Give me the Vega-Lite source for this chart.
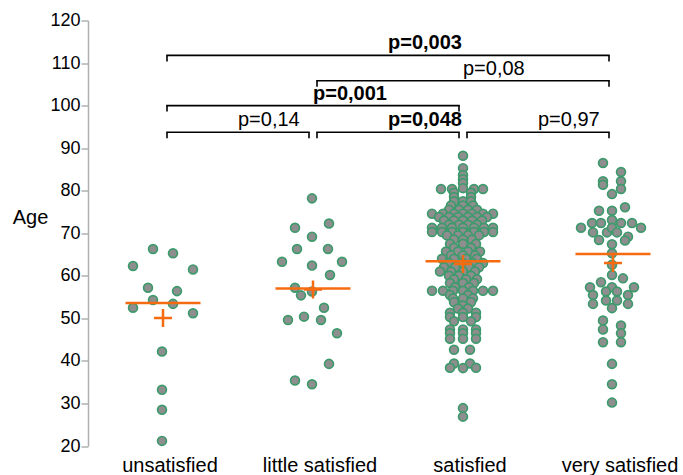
{
  "$schema": "https://vega.github.io/schema/vega-lite/v6.json",
  "width": 595,
  "height": 425.5,
  "autosize": "none",
  "padding": {"left": 88, "top": 20.5, "right": 0, "bottom": 29},
  "config": {"view": {"stroke": null}, "font": "Liberation Sans"},
  "datasets": {
    "pts": [
      {"cat":"unsatisfied","age":66.3,"jit":-10},{"cat":"unsatisfied","age":65.3,"jit":10},{"cat":"unsatisfied","age":62.3,"jit":-30},{"cat":"unsatisfied","age":61.5,"jit":30},{"cat":"unsatisfied","age":57.2,"jit":-15},{"cat":"unsatisfied","age":56.4,"jit":14},{"cat":"unsatisfied","age":54.3,"jit":-10},{"cat":"unsatisfied","age":53.4,"jit":10},{"cat":"unsatisfied","age":52.5,"jit":-30},{"cat":"unsatisfied","age":51.2,"jit":30},{"cat":"unsatisfied","age":42.2,"jit":-1},{"cat":"unsatisfied","age":33.2,"jit":-1},{"cat":"unsatisfied","age":28.5,"jit":-1},{"cat":"unsatisfied","age":21.2,"jit":-1},
      {"cat":"little satisfied","age":78.2,"jit":-1},{"cat":"little satisfied","age":71.3,"jit":-18},{"cat":"little satisfied","age":72.3,"jit":16},{"cat":"little satisfied","age":69.2,"jit":-1},{"cat":"little satisfied","age":66.3,"jit":-16},{"cat":"little satisfied","age":66.3,"jit":15},{"cat":"little satisfied","age":63.3,"jit":-31},{"cat":"little satisfied","age":62.4,"jit":-1},{"cat":"little satisfied","age":63.3,"jit":29},{"cat":"little satisfied","age":60.2,"jit":17},{"cat":"little satisfied","age":57.2,"jit":-18},{"cat":"little satisfied","age":55.4,"jit":-12},{"cat":"little satisfied","age":56.3,"jit":-1},{"cat":"little satisfied","age":52.5,"jit":11},{"cat":"little satisfied","age":49.6,"jit":-25},{"cat":"little satisfied","age":50.4,"jit":-9},{"cat":"little satisfied","age":49.6,"jit":8},{"cat":"little satisfied","age":46.5,"jit":24},{"cat":"little satisfied","age":39.3,"jit":16},{"cat":"little satisfied","age":35.4,"jit":-18},{"cat":"little satisfied","age":34.5,"jit":-1},
      {"cat":"satisfied","age":88.2,"jit":0},{"cat":"satisfied","age":85.3,"jit":0},{"cat":"satisfied","age":83.7,"jit":0},{"cat":"satisfied","age":82.7,"jit":0},{"cat":"satisfied","age":81.8,"jit":0},{"cat":"satisfied","age":80.6,"jit":0},
      {"cat":"satisfied","age":80.4,"jit":-22},{"cat":"satisfied","age":80.4,"jit":-11},{"cat":"satisfied","age":80.4,"jit":11},{"cat":"satisfied","age":80.4,"jit":20},
      {"cat":"satisfied","age":79.5,"jit":-9},{"cat":"satisfied","age":79.5,"jit":8},
      {"cat":"satisfied","age":78.5,"jit":-9},{"cat":"satisfied","age":78.5,"jit":8},
      {"cat":"satisfied","age":77.5,"jit":-9},{"cat":"satisfied","age":77.5,"jit":0},{"cat":"satisfied","age":77.5,"jit":8},
      {"cat":"satisfied","age":76.5,"jit":-12},{"cat":"satisfied","age":76.5,"jit":0},{"cat":"satisfied","age":76.5,"jit":10},
      {"cat":"satisfied","age":75.5,"jit":-14},{"cat":"satisfied","age":75.5,"jit":-4},{"cat":"satisfied","age":75.5,"jit":5},{"cat":"satisfied","age":75.5,"jit":14},
      {"cat":"satisfied","age":74.6,"jit":-31},{"cat":"satisfied","age":74.6,"jit":-20},{"cat":"satisfied","age":74.6,"jit":-9},{"cat":"satisfied","age":74.6,"jit":0},{"cat":"satisfied","age":74.6,"jit":9},{"cat":"satisfied","age":74.6,"jit":20},{"cat":"satisfied","age":74.6,"jit":30},
      {"cat":"satisfied","age":73.8,"jit":-24},{"cat":"satisfied","age":73.8,"jit":-14},{"cat":"satisfied","age":73.8,"jit":-5},{"cat":"satisfied","age":73.8,"jit":5},{"cat":"satisfied","age":73.8,"jit":14},{"cat":"satisfied","age":73.8,"jit":24},
      {"cat":"satisfied","age":73.0,"jit":-19},{"cat":"satisfied","age":73.0,"jit":-9},{"cat":"satisfied","age":73.0,"jit":0},{"cat":"satisfied","age":73.0,"jit":9},{"cat":"satisfied","age":73.0,"jit":19},
      {"cat":"satisfied","age":72.0,"jit":-14},{"cat":"satisfied","age":72.0,"jit":-4},{"cat":"satisfied","age":72.0,"jit":5},{"cat":"satisfied","age":72.0,"jit":14},
      {"cat":"satisfied","age":71.3,"jit":-31},{"cat":"satisfied","age":71.3,"jit":-21},{"cat":"satisfied","age":71.3,"jit":-11},{"cat":"satisfied","age":71.3,"jit":0},{"cat":"satisfied","age":71.3,"jit":11},{"cat":"satisfied","age":71.3,"jit":21},{"cat":"satisfied","age":71.3,"jit":30},
      {"cat":"satisfied","age":70.3,"jit":-31},{"cat":"satisfied","age":70.3,"jit":-21},{"cat":"satisfied","age":70.3,"jit":-11},{"cat":"satisfied","age":70.3,"jit":0},{"cat":"satisfied","age":70.3,"jit":11},{"cat":"satisfied","age":70.3,"jit":21},{"cat":"satisfied","age":70.3,"jit":30},
      {"cat":"satisfied","age":69.5,"jit":-16},{"cat":"satisfied","age":69.5,"jit":-5},{"cat":"satisfied","age":69.5,"jit":5},{"cat":"satisfied","age":69.5,"jit":16},
      {"cat":"satisfied","age":68.5,"jit":-9},{"cat":"satisfied","age":68.5,"jit":0},{"cat":"satisfied","age":68.5,"jit":9},
      {"cat":"satisfied","age":67.5,"jit":-13},{"cat":"satisfied","age":67.5,"jit":0},{"cat":"satisfied","age":67.5,"jit":13},
      {"cat":"satisfied","age":66.6,"jit":-9},{"cat":"satisfied","age":66.6,"jit":8},
      {"cat":"satisfied","age":65.7,"jit":-17},{"cat":"satisfied","age":65.7,"jit":-5},{"cat":"satisfied","age":65.7,"jit":5},{"cat":"satisfied","age":65.7,"jit":17},
      {"cat":"satisfied","age":64.8,"jit":-12},{"cat":"satisfied","age":64.8,"jit":0},{"cat":"satisfied","age":64.8,"jit":12},
      {"cat":"satisfied","age":64.0,"jit":-21},{"cat":"satisfied","age":64.0,"jit":-9},{"cat":"satisfied","age":64.0,"jit":3},{"cat":"satisfied","age":64.0,"jit":14},
      {"cat":"satisfied","age":63.0,"jit":-14},{"cat":"satisfied","age":63.0,"jit":0},{"cat":"satisfied","age":63.0,"jit":10},{"cat":"satisfied","age":63.0,"jit":20},
      {"cat":"satisfied","age":62.0,"jit":-19},{"cat":"satisfied","age":62.0,"jit":-8},{"cat":"satisfied","age":62.0,"jit":6},{"cat":"satisfied","age":62.0,"jit":16},
      {"cat":"satisfied","age":61.0,"jit":-23},{"cat":"satisfied","age":61.0,"jit":-12},{"cat":"satisfied","age":61.0,"jit":0},{"cat":"satisfied","age":61.0,"jit":12},
      {"cat":"satisfied","age":60.0,"jit":-14},{"cat":"satisfied","age":60.0,"jit":-4},{"cat":"satisfied","age":60.0,"jit":8},
      {"cat":"satisfied","age":59.2,"jit":-9},{"cat":"satisfied","age":59.2,"jit":3},{"cat":"satisfied","age":59.2,"jit":14},
      {"cat":"satisfied","age":58.3,"jit":-13},{"cat":"satisfied","age":58.3,"jit":0},{"cat":"satisfied","age":58.3,"jit":11},
      {"cat":"satisfied","age":57.3,"jit":-8},{"cat":"satisfied","age":57.3,"jit":6},
      {"cat":"satisfied","age":56.5,"jit":-31},{"cat":"satisfied","age":56.5,"jit":-20},{"cat":"satisfied","age":56.5,"jit":-10},{"cat":"satisfied","age":56.5,"jit":0},{"cat":"satisfied","age":56.5,"jit":10},{"cat":"satisfied","age":56.5,"jit":20},{"cat":"satisfied","age":56.5,"jit":30},
      {"cat":"satisfied","age":55.5,"jit":-13},{"cat":"satisfied","age":55.5,"jit":5},
      {"cat":"satisfied","age":54.7,"jit":-10},{"cat":"satisfied","age":54.7,"jit":0},{"cat":"satisfied","age":54.7,"jit":10},
      {"cat":"satisfied","age":53.8,"jit":-9},{"cat":"satisfied","age":53.8,"jit":8},
      {"cat":"satisfied","age":53.0,"jit":0},
      {"cat":"satisfied","age":52.3,"jit":-5},{"cat":"satisfied","age":52.3,"jit":5},
      {"cat":"satisfied","age":51.3,"jit":-13},{"cat":"satisfied","age":51.3,"jit":0},{"cat":"satisfied","age":51.3,"jit":13},
      {"cat":"satisfied","age":50.3,"jit":-13},{"cat":"satisfied","age":50.3,"jit":0},{"cat":"satisfied","age":50.3,"jit":13},
      {"cat":"satisfied","age":49.3,"jit":-9},{"cat":"satisfied","age":49.3,"jit":8},
      {"cat":"satisfied","age":47.4,"jit":-13},{"cat":"satisfied","age":47.4,"jit":0},{"cat":"satisfied","age":47.4,"jit":13},
      {"cat":"satisfied","age":46.5,"jit":-13},{"cat":"satisfied","age":46.5,"jit":0},{"cat":"satisfied","age":46.5,"jit":13},
      {"cat":"satisfied","age":45.2,"jit":-13},{"cat":"satisfied","age":45.2,"jit":0},{"cat":"satisfied","age":45.2,"jit":13},
      {"cat":"satisfied","age":42.6,"jit":-9},{"cat":"satisfied","age":42.6,"jit":7},
      {"cat":"satisfied","age":39.4,"jit":-9},{"cat":"satisfied","age":39.4,"jit":7},
      {"cat":"satisfied","age":38.4,"jit":-13},{"cat":"satisfied","age":38.3,"jit":0},{"cat":"satisfied","age":38.4,"jit":13},
      {"cat":"satisfied","age":28.9,"jit":0},{"cat":"satisfied","age":26.9,"jit":0},
      {"cat":"very satisfied","age":86.5,"jit":-10},{"cat":"very satisfied","age":84.4,"jit":8},{"cat":"very satisfied","age":82.2,"jit":-10},{"cat":"very satisfied","age":81.4,"jit":-10},{"cat":"very satisfied","age":82.2,"jit":8},{"cat":"very satisfied","age":80.4,"jit":8},{"cat":"very satisfied","age":79.2,"jit":-1},{"cat":"very satisfied","age":76.1,"jit":12},{"cat":"very satisfied","age":75.3,"jit":-14},{"cat":"very satisfied","age":75.3,"jit":-1},
      {"cat":"very satisfied","age":72.4,"jit":-21},{"cat":"very satisfied","age":72.4,"jit":-12},{"cat":"very satisfied","age":73.1,"jit":-1},{"cat":"very satisfied","age":72.4,"jit":8},{"cat":"very satisfied","age":72.4,"jit":19},{"cat":"very satisfied","age":71.3,"jit":-32},{"cat":"very satisfied","age":71.3,"jit":28},{"cat":"very satisfied","age":70.2,"jit":-20},{"cat":"very satisfied","age":70.2,"jit":-6},{"cat":"very satisfied","age":71.3,"jit":-1},
      {"cat":"very satisfied","age":70.2,"jit":4},{"cat":"very satisfied","age":69.2,"jit":15},{"cat":"very satisfied","age":68.3,"jit":12},{"cat":"very satisfied","age":68.4,"jit":-14},{"cat":"very satisfied","age":67.4,"jit":-1},{"cat":"very satisfied","age":65.3,"jit":-1},{"cat":"very satisfied","age":62.6,"jit":-1},{"cat":"very satisfied","age":60.2,"jit":-1},{"cat":"very satisfied","age":59.4,"jit":10},{"cat":"very satisfied","age":58.5,"jit":-12},
      {"cat":"very satisfied","age":57.3,"jit":-23},{"cat":"very satisfied","age":57.3,"jit":-1},{"cat":"very satisfied","age":57.3,"jit":21},{"cat":"very satisfied","age":55.5,"jit":-20},{"cat":"very satisfied","age":56.3,"jit":-7},{"cat":"very satisfied","age":56.3,"jit":4},{"cat":"very satisfied","age":55.5,"jit":15},{"cat":"very satisfied","age":53.4,"jit":-20},{"cat":"very satisfied","age":54.2,"jit":-7},{"cat":"very satisfied","age":54.2,"jit":4},
      {"cat":"very satisfied","age":53.4,"jit":15},{"cat":"very satisfied","age":52.4,"jit":-1},{"cat":"very satisfied","age":49.5,"jit":-10},{"cat":"very satisfied","age":48.3,"jit":8},{"cat":"very satisfied","age":47.4,"jit":-10},{"cat":"very satisfied","age":46.5,"jit":8},{"cat":"very satisfied","age":44.4,"jit":-10},{"cat":"very satisfied","age":44.4,"jit":8},{"cat":"very satisfied","age":39.3,"jit":-1},{"cat":"very satisfied","age":34.5,"jit":-1},
      {"cat":"very satisfied","age":30.2,"jit":-1}
    ],
    "summary": [
      {"cat":"unsatisfied","median":53.6,"mean":50.1},
      {"cat":"little satisfied","median":57.0,"mean":56.8},
      {"cat":"satisfied","median":63.4,"mean":62.8},
      {"cat":"very satisfied","median":65.1,"mean":63.0}
    ],
    "brackets": [
      {"from":"unsatisfied","to":"little satisfied","level":93.75,"label":"p=0,14","significant":false,"half":0.5},
      {"from":"little satisfied","to":"satisfied","level":93.75,"label":"p=0,048","significant":true,"half":0.5},
      {"from":"satisfied","to":"very satisfied","level":93.75,"label":"p=0,97","significant":false,"half":0.5},
      {"from":"unsatisfied","to":"satisfied","level":100.0,"label":"p=0,001","significant":true,"half":1},
      {"from":"little satisfied","to":"very satisfied","level":105.85,"label":"p=0,08","significant":false,"half":1},
      {"from":"unsatisfied","to":"very satisfied","level":111.8,"label":"p=0,003","significant":true,"half":1.5}
    ]
  },
  "resolve": {"scale": {"xOffset": "independent"}},
  "layer": [
    {
      "data": {"name": "pts"},
      "mark": {"type": "point", "shape": "circle", "filled": true, "size": 78, "fill": "#8e8e8e", "stroke": "#3d9a6c", "strokeWidth": 1.7, "opacity": 1, "fillOpacity": 1, "strokeOpacity": 1},
      "encoding": {
        "x": {"field": "cat", "type": "nominal",
          "scale": {"type": "band", "domain": ["unsatisfied", "little satisfied", "satisfied", "very satisfied"], "range": [0, 600], "paddingInner": 0, "paddingOuter": 0},
          "axis": {"title": null, "domain": false, "ticks": false, "tickSize": 0, "labelAngle": 0, "labelFontSize": 20, "labelColor": "#000", "labelPadding": 9, "labelOffset": 7, "labelFont": "Liberation Sans"}},
        "xOffset": {"field": "jit", "type": "quantitative", "scale": {"domain": [-75, 75], "range": [0, 150]}},
        "y": {"field": "age", "type": "quantitative",
          "scale": {"domain": [20, 120], "nice": false, "zero": false},
          "axis": {"title": "Age", "titleAngle": 0, "titleFontSize": 20, "titleFontWeight": "normal", "titleColor": "#000", "titleFont": "Liberation Sans", "titleAlign": "center", "titleBaseline": "middle", "titleX": -58, "titleY": 197,
            "values": [20, 30, 40, 50, 60, 70, 80, 90, 100, 110, 120], "grid": false, "labelFontSize": 18, "labelColor": "#000", "labelPadding": 1, "tickSize": 7, "tickColor": "#b0b0b0", "tickWidth": 1.5, "domainColor": "#b0b0b0", "domainWidth": 1.5, "labelFont": "Liberation Sans"}}
      }
    },
    {
      "data": {"name": "summary"},
      "mark": {"type": "tick", "color": "#f76b10", "size": 75, "thickness": 2.5, "opacity": 1},
      "encoding": {
        "x": {"field": "cat", "type": "nominal"},
        "y": {"field": "median", "type": "quantitative"}
      }
    },
    {
      "data": {"name": "summary"},
      "mark": {"type": "point", "shape": "M-1,0H1M0,-1V1", "filled": false, "size": 324, "stroke": "#f76b10", "strokeWidth": 2.5, "opacity": 1},
      "encoding": {
        "x": {"field": "cat", "type": "nominal"},
        "y": {"field": "mean", "type": "quantitative"}
      }
    },
    {
      "data": {"name": "brackets"},
      "mark": {"type": "rule", "color": "#000", "strokeWidth": 1.6, "xOffset": 4, "x2Offset": -4, "strokeCap": "square"},
      "encoding": {
        "x": {"field": "from", "type": "nominal"},
        "x2": {"field": "to"},
        "y": {"field": "level", "type": "quantitative"}
      }
    },
    {
      "data": {"name": "brackets"},
      "mark": {"type": "rule", "color": "#000", "strokeWidth": 1.6, "xOffset": 4, "y2Offset": 6},
      "encoding": {
        "x": {"field": "from", "type": "nominal"},
        "y": {"field": "level", "type": "quantitative"},
        "y2": {"field": "level"}
      }
    },
    {
      "data": {"name": "brackets"},
      "mark": {"type": "rule", "color": "#000", "strokeWidth": 1.6, "xOffset": -4, "y2Offset": 6},
      "encoding": {
        "x": {"field": "to", "type": "nominal"},
        "y": {"field": "level", "type": "quantitative"},
        "y2": {"field": "level"}
      }
    },
    {
      "data": {"name": "brackets"},
      "transform": [{"filter": "!datum.significant"}],
      "mark": {"type": "text", "align": "left", "baseline": "alphabetic", "dy": -6, "fontSize": 20, "fontWeight": "normal", "color": "#000", "font": "Liberation Sans"},
      "encoding": {
        "x": {"field": "from", "type": "nominal"},
        "xOffset": {"field": "half", "type": "quantitative", "scale": {"domain": [-0.5, 0.5], "range": [0, 150]}},
        "y": {"field": "level", "type": "quantitative"},
        "text": {"field": "label"}
      }
    },
    {
      "data": {"name": "brackets"},
      "transform": [{"filter": "datum.significant"}],
      "mark": {"type": "text", "align": "left", "baseline": "alphabetic", "dy": -6, "fontSize": 20, "fontWeight": "bold", "color": "#000", "font": "Liberation Sans"},
      "encoding": {
        "x": {"field": "from", "type": "nominal"},
        "xOffset": {"field": "half", "type": "quantitative", "scale": {"domain": [-0.5, 0.5], "range": [0, 150]}},
        "y": {"field": "level", "type": "quantitative"},
        "text": {"field": "label"}
      }
    }
  ]
}
